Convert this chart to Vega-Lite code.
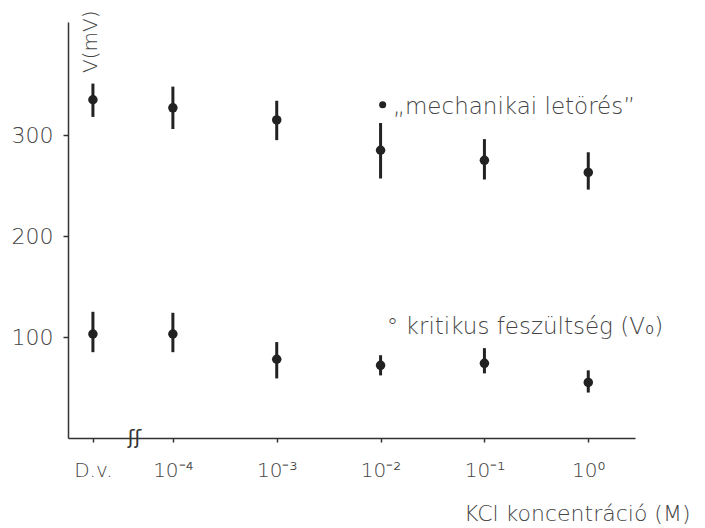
{
  "$schema": "https://vega.github.io/schema/vega-lite/v6.json",
  "width": 567,
  "height": 416,
  "autosize": {"type": "none"},
  "padding": {"left": 68, "top": 22, "right": 70, "bottom": 90},
  "background": "#ffffff",
  "config": {
    "view": {"stroke": null},
    "font": "DejaVu Sans",
    "axis": {"grid": false, "domainColor": "#333333", "domainWidth": 1.5, "tickColor": "#333333", "tickWidth": 1.5, "labelColor": "#444444", "titleColor": "#444444", "labelFont": "DejaVu Sans", "titleFont": "DejaVu Sans", "labelFontWeight": 200, "titleFontWeight": 200}
  },
  "datasets": {
    "pts": [
      {"conc": "D.v.", "x": -4.77, "series": "mechanikai letörés", "v": 335, "lo": 318, "hi": 351},
      {"conc": "1e-4", "x": -4, "series": "mechanikai letörés", "v": 327, "lo": 306, "hi": 348},
      {"conc": "1e-3", "x": -3, "series": "mechanikai letörés", "v": 315, "lo": 295, "hi": 334},
      {"conc": "1e-2", "x": -2, "series": "mechanikai letörés", "v": 285, "lo": 257, "hi": 312},
      {"conc": "1e-1", "x": -1, "series": "mechanikai letörés", "v": 275, "lo": 256, "hi": 296},
      {"conc": "1e0", "x": 0, "series": "mechanikai letörés", "v": 263, "lo": 246, "hi": 283},
      {"conc": "D.v.", "x": -4.77, "series": "kritikus feszültség", "v": 103, "lo": 85, "hi": 125},
      {"conc": "1e-4", "x": -4, "series": "kritikus feszültség", "v": 103, "lo": 85, "hi": 124},
      {"conc": "1e-3", "x": -3, "series": "kritikus feszültség", "v": 78, "lo": 59, "hi": 95},
      {"conc": "1e-2", "x": -2, "series": "kritikus feszültség", "v": 72, "lo": 62, "hi": 82},
      {"conc": "1e-1", "x": -1, "series": "kritikus feszültség", "v": 74, "lo": 64, "hi": 89},
      {"conc": "1e0", "x": 0, "series": "kritikus feszültség", "v": 55, "lo": 45, "hi": 67}
    ],
    "notes": [
      {"x": -1.88, "y": 328, "text": "„mechanikai letörés”"},
      {"x": -1.94, "y": 110, "text": "° kritikus feszültség (V₀)"}
    ],
    "sym": [
      {"x": -1.98, "y": 330}
    ],
    "brk": [
      {"x": -4.37, "y": 0, "text": "ʃʃ"}
    ]
  },
  "layer": [
    {
      "data": {"name": "pts"},
      "mark": {"type": "rule", "color": "#222222", "strokeWidth": 3},
      "encoding": {
        "x": {"field": "x", "type": "quantitative", "scale": {"domain": [-5.01, 0.45], "nice": false, "zero": false},
          "axis": {"values": [-4.77, -4, -3, -2, -1, 0], "title": "KCl koncentráció (M)", "titleAnchor": "end", "titleAlign": "right", "titleX": 622, "titleY": 82, "titleBaseline": "alphabetic", "titleFontSize": 22,
            "labelFontSize": 20, "labelPadding": 18, "tickSize": 4,
            "labelExpr": "datum.value < -4.5 ? 'D.v.' : datum.value == -4 ? '10⁻⁴' : datum.value == -3 ? '10⁻³' : datum.value == -2 ? '10⁻²' : datum.value == -1 ? '10⁻¹' : '10⁰'"}},
        "y": {"field": "lo", "type": "quantitative", "scale": {"domain": [0, 412], "nice": false},
          "axis": {"values": [100, 200, 300], "title": "V(mV)", "titleAngle": -90, "titleX": 22, "titleY": -12, "titleAlign": "right", "titleBaseline": "middle", "titleFontSize": 20,
            "labelFontSize": 22, "labelPadding": 10, "tickSize": 5}},
        "y2": {"field": "hi"}
      }
    },
    {
      "data": {"name": "pts"},
      "mark": {"type": "point", "filled": true, "color": "#222222", "size": 90, "opacity": 1},
      "encoding": {
        "x": {"field": "x", "type": "quantitative"},
        "y": {"field": "v", "type": "quantitative"}
      }
    },
    {
      "data": {"name": "sym"},
      "mark": {"type": "point", "filled": true, "color": "#222222", "size": 50, "opacity": 1},
      "encoding": {
        "x": {"field": "x", "type": "quantitative"},
        "y": {"field": "y", "type": "quantitative"}
      }
    },
    {
      "data": {"name": "notes"},
      "mark": {"type": "text", "align": "left", "baseline": "middle", "fontSize": 23, "fontWeight": 200, "color": "#444444"},
      "encoding": {
        "x": {"field": "x", "type": "quantitative"},
        "y": {"field": "y", "type": "quantitative"},
        "text": {"field": "text"}
      }
    },
    {
      "data": {"name": "brk"},
      "mark": {"type": "text", "align": "center", "baseline": "middle", "fontSize": 20, "color": "#333333"},
      "encoding": {
        "x": {"field": "x", "type": "quantitative"},
        "y": {"field": "y", "type": "quantitative"},
        "text": {"field": "text"}
      }
    }
  ]
}
